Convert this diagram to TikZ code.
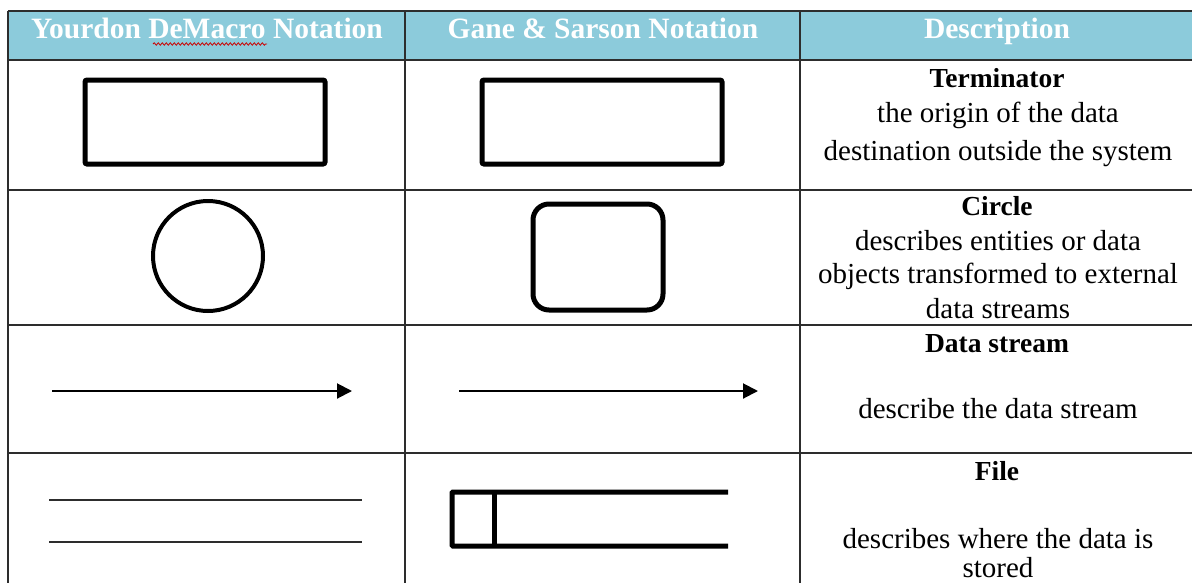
\documentclass[tikz,border=0pt]{standalone}
\usepackage{fontspec}
\setmainfont{Liberation Serif}
\usetikzlibrary{arrows.meta,decorations.pathmorphing}
\definecolor{headblue}{RGB}{140,203,219}
\definecolor{gridgray}{RGB}{45,45,45}

\begin{document}
\begin{tikzpicture}[x=1pt,y=-1pt,
  grid/.style={draw=gridgray, line width=1.6pt},
  head/.style={anchor=base, inner sep=0pt, text=white, font=\fontsize{29.5}{30}\selectfont\bfseries},
  desc/.style={anchor=base, inner sep=0pt, font=\fontsize{29}{34}\selectfont},
  title/.style={desc, font=\fontsize{27.5}{34}\selectfont\bfseries},
  symbol/.style={draw, line width=5pt, minimum width=#1},
  flow/.style={line width=2pt, -{Triangle[length=15pt,width=15pt]}},
  plain/.style={line width=2pt, draw=gridgray},
  spell/.style={draw=red!80!black, line width=0.8pt,
    decorate, decoration={snake, amplitude=1.2pt, segment length=4pt}},
  ]
  \useasboundingbox (0,0) rectangle (1192,582);
  \clip (0,0) rectangle (1192,582);

  % header row
  \fill[headblue] (8,11) rectangle (1200,60);
  \node[head] (h1) at (207,38) {Yourdon DeMacro Notation};
  \node[head] (h2) at (603,38) {Gane \& Sarson Notation};
  \node[head] (h3) at (997,38) {Description};
  \draw[spell] (153,44) -- (267,44);

  % table rules
  \draw[grid] (8,11) -- (1200,11);
  \foreach \y in {60,190,325,453}
    \draw[grid] (8,\y) -- (1200,\y);
  \foreach \x in {8,405,800}
    \draw[grid] (\x,11) -- (\x,590);

  % terminator
  \node[symbol=240pt, minimum height=84pt, rounded corners=2pt] (ydTerm) at (205,122) {};
  \node[symbol=240pt, minimum height=84pt, rounded corners=2pt] (gsTerm) at (602,122) {};

  % circle / process
  \node[symbol=110pt, circle, line width=4pt] (ydProc) at (208,256) {};
  \node[symbol=130pt, minimum height=106pt, rounded corners=16pt] (gsProc) at (598,257) {};

  % data stream
  \coordinate (ydFlowA) at (52,391);
  \coordinate (ydFlowB) at (352,391);
  \coordinate (gsFlowA) at (459,391);
  \coordinate (gsFlowB) at (758,391);
  \draw[flow] (ydFlowA) -- (ydFlowB);
  \draw[flow] (gsFlowA) -- (gsFlowB);

  % file / store
  \coordinate (ydStoreA) at (49,500);
  \coordinate (ydStoreB) at (362,500);
  \coordinate (ydStoreC) at (49,542);
  \coordinate (ydStoreD) at (362,542);
  \draw[plain] (ydStoreA) -- (ydStoreB);
  \draw[plain] (ydStoreC) -- (ydStoreD);
  \coordinate (gsStoreA) at (728,492);
  \coordinate (gsStoreB) at (452,492);
  \coordinate (gsStoreC) at (452,546);
  \coordinate (gsStoreD) at (728,546);
  \draw[line width=5pt, rounded corners=1pt]
    (gsStoreA) -- (gsStoreB) -- (gsStoreC) -- (gsStoreD);
  \draw[line width=5pt] (494,492) -- (494,546);

  % descriptions
  \foreach \txt/\y [count=\i] in {Terminator/87, Circle/215, Data stream/352, File/480}
    \node[title] (t\i) at (997,\y) {\txt};
  \foreach \txt/\y [count=\i] in {
      the origin of the data/122,
      destination outside the system/160,
      describes entities or data/250,
      objects transformed to external/283,
      data streams/318,
      describe the data stream/418,
      describes where the data is/548,
      stored/577}
    \node[desc] (d\i) at (998,\y) {\txt};
\end{tikzpicture}
\end{document}
